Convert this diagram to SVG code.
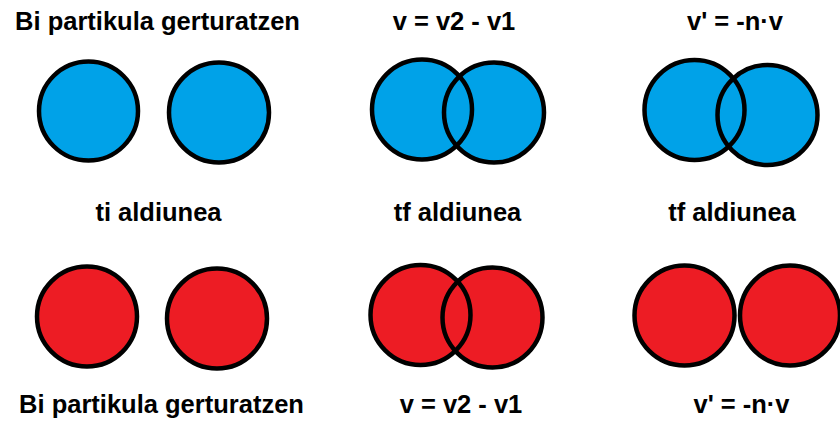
<svg xmlns="http://www.w3.org/2000/svg" width="840" height="421" viewBox="0 0 840 421">
<style>
text{font-family:"Liberation Sans",Arial,sans-serif;font-weight:bold;font-size:25.5px;fill:#000;text-anchor:middle}
.b{fill:#00A2E8;stroke:none}
.r{fill:#ED1C24;stroke:none}
.o{fill:none;stroke:#000;stroke-width:4.5}
</style>
<rect width="840" height="421" fill="#fff"/>
<g id="labels">
<text x="157.5" y="30">Bi partikula gerturatzen</text>
<text x="454" y="30">v = v2 - v1</text>
<text x="735" y="30">v' = -n·v</text>
<text x="158.5" y="221">ti aldiunea</text>
<text x="457.5" y="221">tf aldiunea</text>
<text x="732" y="221">tf aldiunea</text>
<text x="161.5" y="413">Bi partikula gerturatzen</text>
<text x="461" y="413">v = v2 - v1</text>
<text x="741.5" y="413">v' = -n·v</text>
</g>
<g id="blue-ti">
<circle class="b" cx="88.5" cy="111" r="49.5"/><circle class="b" cx="219" cy="112.5" r="50"/>
<circle class="o" cx="88.5" cy="111" r="49.5"/><circle class="o" cx="219" cy="112.5" r="50"/>
</g>
<g id="blue-tf">
<circle class="b" cx="422" cy="109.5" r="50"/><circle class="b" cx="494" cy="112.5" r="50"/>
<circle class="o" cx="422" cy="109.5" r="50"/><circle class="o" cx="494" cy="112.5" r="50"/>
</g>
<g id="blue-tf2">
<circle class="b" cx="694.5" cy="110" r="50"/><circle class="b" cx="767.5" cy="115" r="50"/>
<circle class="o" cx="694.5" cy="110" r="50"/><circle class="o" cx="767.5" cy="115" r="50"/>
</g>
<g id="red-ti">
<circle class="r" cx="87" cy="316.5" r="50"/><circle class="r" cx="217" cy="318.5" r="50"/>
<circle class="o" cx="87" cy="316.5" r="50"/><circle class="o" cx="217" cy="318.5" r="50"/>
</g>
<g id="red-tf">
<circle class="r" cx="420.5" cy="315" r="50"/><circle class="r" cx="492.5" cy="317.5" r="50"/>
<circle class="o" cx="420.5" cy="315" r="50"/><circle class="o" cx="492.5" cy="317.5" r="50"/>
</g>
<g id="red-tf2">
<circle class="r" cx="684.5" cy="315.5" r="50"/><circle class="r" cx="790" cy="315.5" r="50"/>
<circle class="o" cx="684.5" cy="315.5" r="50"/><circle class="o" cx="790" cy="315.5" r="50"/>
</g>
<g id="connectors"/>
</svg>
